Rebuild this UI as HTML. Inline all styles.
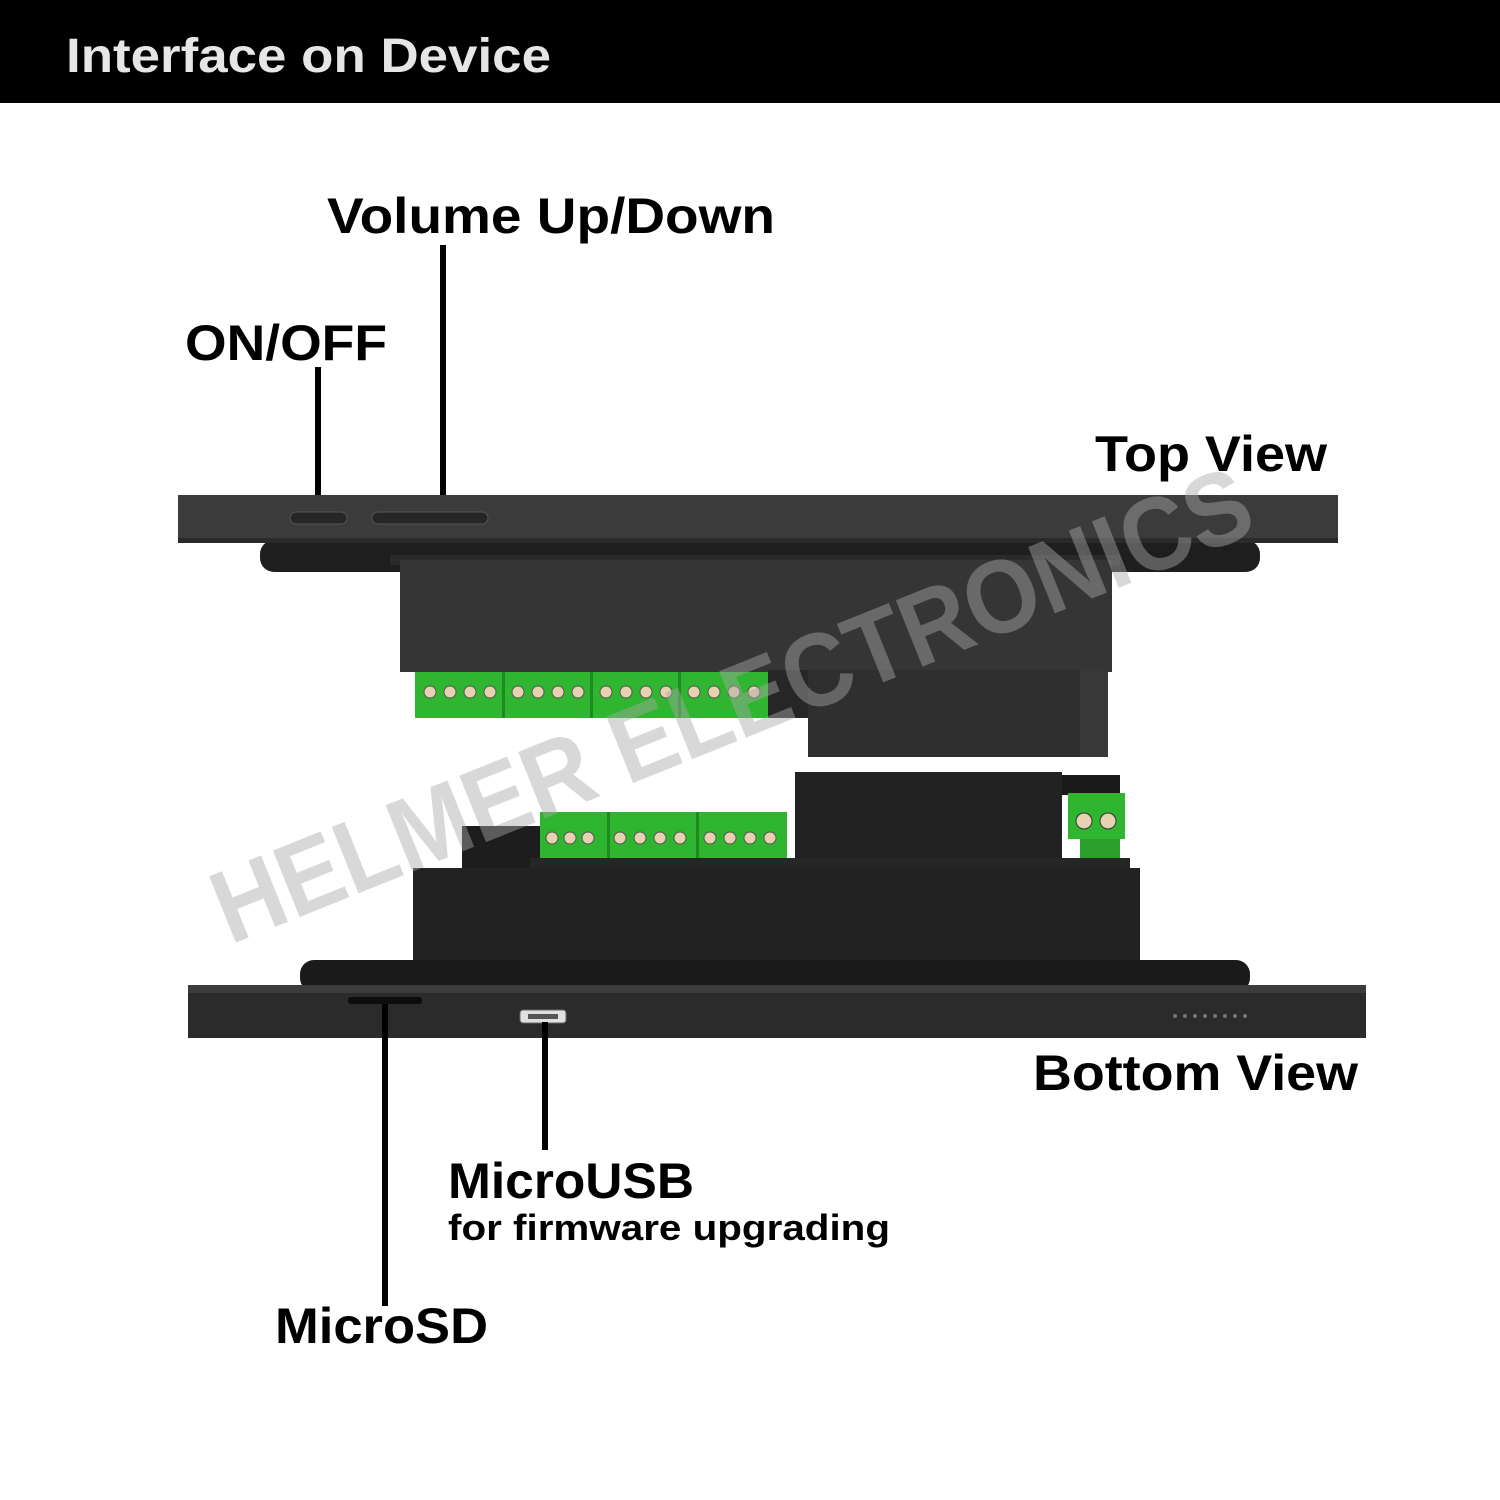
<!DOCTYPE html>
<html><head><meta charset="utf-8"><style>
html,body{margin:0;padding:0;background:#fff;}
svg{display:block;}
text{font-family:"Liberation Sans",sans-serif;font-weight:bold;}
</style></head><body>
<svg width="1500" height="1500" viewBox="0 0 1500 1500" xmlns="http://www.w3.org/2000/svg">
<rect x="0" y="0" width="1500" height="1500" fill="#fff"/>
<rect x="0" y="0" width="1500" height="103" fill="#000"/>
<text x="66" y="72" font-size="48" fill="#e6e6e6" textLength="485" lengthAdjust="spacingAndGlyphs">Interface on Device</text>

<text x="327" y="233" font-size="50" fill="#000" textLength="448" lengthAdjust="spacingAndGlyphs">Volume Up/Down</text>
<text x="185" y="360" font-size="50" fill="#000" textLength="202" lengthAdjust="spacingAndGlyphs">ON/OFF</text>
<text x="1095" y="471" font-size="50" fill="#000" textLength="232" lengthAdjust="spacingAndGlyphs">Top View</text>
<rect x="440" y="245" width="6" height="258" fill="#000"/>
<rect x="315" y="367" width="6" height="136" fill="#000"/>

<!-- top device -->
<rect x="260" y="540" width="1000" height="32" rx="14" fill="#1e1e1e"/>
<rect x="178" y="495" width="1160" height="48" fill="#3b3b3b"/>
<rect x="178" y="538" width="1160" height="5" fill="#2a2a2a"/>
<rect x="290" y="512" width="57" height="12" rx="6" fill="#262626" stroke="#555" stroke-width="1"/>
<rect x="372" y="512" width="116" height="12" rx="6" fill="#262626" stroke="#555" stroke-width="1"/>
<rect x="390" y="555" width="730" height="10" fill="#2a2a2a"/>
<rect x="400" y="560" width="712" height="112" fill="#353535"/>
<rect x="808" y="670" width="300" height="87" fill="#2f2f2f"/>
<rect x="768" y="670" width="40" height="48" fill="#262626"/>
<rect x="1080" y="670" width="28" height="87" fill="#383838"/>
<rect x="415" y="672" width="353" height="46" fill="#2fb52f"/>
<g fill="#1f8a1f"><rect x="502" y="672" width="3" height="46"/><rect x="590" y="672" width="3" height="46"/><rect x="678" y="672" width="3" height="46"/></g>
<g fill="#e6d2b0" stroke="#555" stroke-width="1">
<circle cx="430" cy="692" r="6"/><circle cx="450" cy="692" r="6"/><circle cx="470" cy="692" r="6"/><circle cx="490" cy="692" r="6"/>
<circle cx="518" cy="692" r="6"/><circle cx="538" cy="692" r="6"/><circle cx="558" cy="692" r="6"/><circle cx="578" cy="692" r="6"/>
<circle cx="606" cy="692" r="6"/><circle cx="626" cy="692" r="6"/><circle cx="646" cy="692" r="6"/><circle cx="666" cy="692" r="6"/>
<circle cx="694" cy="692" r="6"/><circle cx="714" cy="692" r="6"/><circle cx="734" cy="692" r="6"/><circle cx="754" cy="692" r="6"/>
</g>

<!-- bottom device -->
<rect x="795" y="772" width="267" height="100" fill="#222"/>
<rect x="1062" y="775" width="58" height="20" fill="#1a1a1a"/>
<rect x="462" y="826" width="80" height="44" fill="#1d1d1d"/>
<rect x="540" y="812" width="247" height="46" fill="#2fb52f"/>
<g fill="#1f8a1f"><rect x="607" y="812" width="3" height="46"/><rect x="696" y="812" width="3" height="46"/></g>
<g fill="#e6d2b0" stroke="#555" stroke-width="1">
<circle cx="552" cy="838" r="6"/><circle cx="570" cy="838" r="6"/><circle cx="588" cy="838" r="6"/>
<circle cx="620" cy="838" r="6"/><circle cx="640" cy="838" r="6"/><circle cx="660" cy="838" r="6"/><circle cx="680" cy="838" r="6"/>
<circle cx="710" cy="838" r="6"/><circle cx="730" cy="838" r="6"/><circle cx="750" cy="838" r="6"/><circle cx="770" cy="838" r="6"/>
</g>
<rect x="1068" y="793" width="57" height="46" fill="#2fb52f"/>
<rect x="1080" y="839" width="40" height="22" fill="#2aa02a"/>
<circle cx="1084" cy="821" r="8" fill="#e6d2b0" stroke="#333"/>
<circle cx="1108" cy="821" r="8" fill="#e6d2b0" stroke="#333"/>
<rect x="530" y="858" width="600" height="12" fill="#262626"/>
<rect x="413" y="868" width="727" height="107" fill="#222"/>
<rect x="300" y="960" width="950" height="32" rx="14" fill="#1a1a1a"/>
<rect x="188" y="992" width="1178" height="46" fill="#2b2b2b"/>
<rect x="188" y="985" width="1178" height="8" fill="#3c3c3c"/>
<rect x="348" y="997" width="74" height="7" rx="3" fill="#0d0d0d"/>
<rect x="520" y="1010" width="46" height="13" rx="3" fill="#e0e0e0" stroke="#666"/>
<rect x="528" y="1014" width="30" height="5" fill="#555"/>
<g fill="#777">
<circle cx="1175" cy="1016" r="2"/><circle cx="1185" cy="1016" r="2"/><circle cx="1195" cy="1016" r="2"/><circle cx="1205" cy="1016" r="2"/><circle cx="1215" cy="1016" r="2"/><circle cx="1225" cy="1016" r="2"/><circle cx="1235" cy="1016" r="2"/><circle cx="1245" cy="1016" r="2"/>
</g>
<rect x="382" y="1004" width="6" height="302" fill="#000"/>
<rect x="542" y="1022" width="6" height="128" fill="#000"/>

<!-- watermark -->
<text x="0" y="0" font-size="104" fill="#a8a8a8" fill-opacity="0.45" transform="translate(230,945) rotate(-21.9)" textLength="1110" lengthAdjust="spacingAndGlyphs">HELMER ELECTRONICS</text>

<text x="1033" y="1090" font-size="50" fill="#000" textLength="325" lengthAdjust="spacingAndGlyphs">Bottom View</text>
<text x="448" y="1198" font-size="50" fill="#000" textLength="246" lengthAdjust="spacingAndGlyphs">MicroUSB</text>
<text x="448" y="1240" font-size="36" fill="#000" textLength="442" lengthAdjust="spacingAndGlyphs">for firmware upgrading</text>
<text x="275" y="1343" font-size="50" fill="#000" textLength="213" lengthAdjust="spacingAndGlyphs">MicroSD</text>
</svg>
</body></html>
